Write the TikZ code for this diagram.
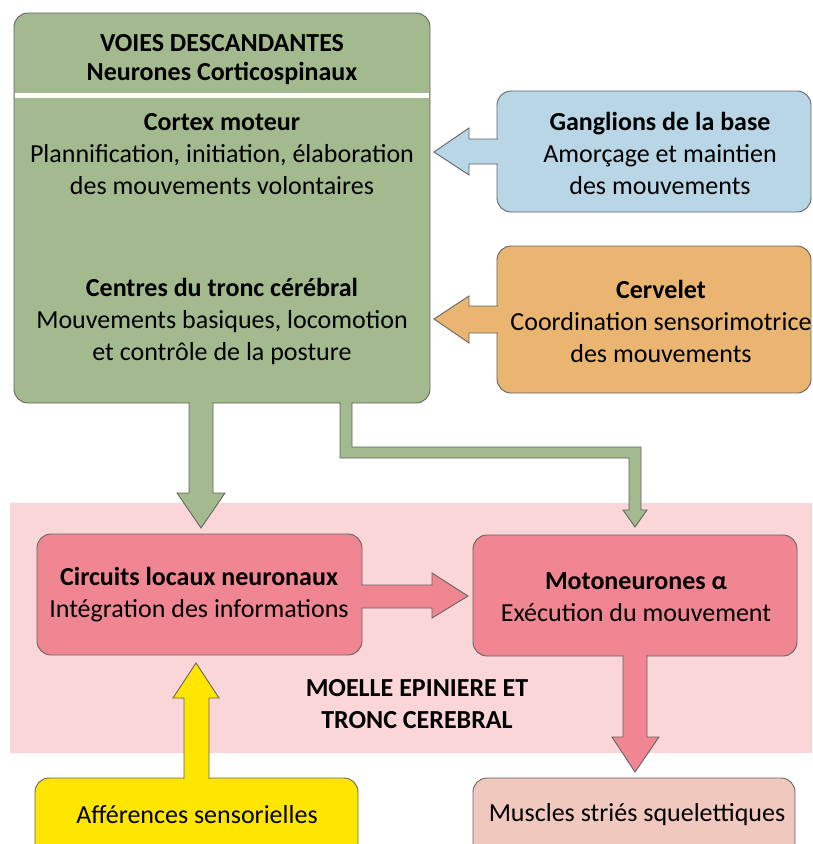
\documentclass[tikz,border=0pt]{standalone}
\usepackage{fontspec}
\setmainfont{Carlito}
\definecolor{cgreen}{RGB}{163,186,143}
\definecolor{cblue}{RGB}{184,214,229}
\definecolor{corange}{RGB}{233,181,112}
\definecolor{cband}{RGB}{251,214,217}
\definecolor{cpink}{RGB}{240,134,145}
\definecolor{cyellow}{RGB}{255,230,0}
\definecolor{cmuscle}{RGB}{241,200,190}
\definecolor{edge}{RGB}{100,100,100}
\tikzset{
  box/.style={draw=edge, line width=0.9pt, rounded corners=14pt, inner sep=0pt},
  txt/.style={align=center, inner sep=0pt, font=\fontsize{26}{32}\selectfont},
  arrline/.style={draw=edge, line width=0.9pt, line join=miter}
}
\begin{document}
\begin{tikzpicture}[x=1pt,y=-1pt]
\useasboundingbox (0,0) rectangle (812,844);
\clip (0,0) rectangle (812,844);
% pink band
\fill[cband] (10,503) rectangle (814,753);
% boxes
\node[box, fill=cgreen, minimum width=416pt, minimum height=390pt] (voies) at (222,208) {};
\draw[white, line width=5pt] (15,95) -- (429,95);
\node[box, fill=cblue, minimum width=314pt, minimum height=121pt] (gang) at (654,151.5) {};
\node[box, fill=corange, minimum width=314pt, minimum height=147pt] (cerv) at (654,319.5) {};
\node[box, fill=cpink, minimum width=325pt, minimum height=121pt] (circ) at (199.5,594.5) {};
\node[box, fill=cpink, minimum width=324pt, minimum height=121pt] (moto) at (635,595.5) {};
\node[box, fill=cyellow, minimum width=323pt, minimum height=82pt] (aff) at (196.5,819) {};
\node[box, fill=cmuscle, minimum width=322pt, minimum height=82pt] (musc) at (634,819) {};
% block arrows
\def\arrGang{(498,139) -- (469,139) -- (469,128) -- (434,152) -- (469,175) -- (469,164) -- (498,164)}
\fill[cblue] \arrGang -- cycle; \draw[arrline] \arrGang;
\def\arrCerv{(498,306) -- (469,306) -- (469,296) -- (434,319) -- (469,343) -- (469,333) -- (498,333)}
\fill[corange] \arrCerv -- cycle; \draw[arrline] \arrCerv;
\def\arrDown{(189,402) -- (189,493) -- (177,493) -- (201,528) -- (225,493) -- (213,493) -- (213,402)}
\fill[cgreen] \arrDown -- cycle; \draw[arrline] \arrDown;
\def\arrElbow{(340,402) -- (340,458) -- (629,458) -- (629,510) -- (623,510) -- (635,527) -- (647,510) -- (641,510) -- (641,447) -- (352,447) -- (352,402)}
\fill[cgreen] \arrElbow -- cycle; \draw[arrline] \arrElbow;
\def\arrRight{(361,585) -- (432,585) -- (432,573) -- (468,596) -- (432,618) -- (432,608) -- (361,608)}
\fill[cpink] \arrRight -- cycle; \draw[arrline] \arrRight;
\def\arrUp{(184,779) -- (184,698) -- (173,698) -- (196,663) -- (219,698) -- (209,698) -- (209,779)}
\fill[cyellow] \arrUp -- cycle; \draw[arrline] \arrUp;
\def\arrMus{(623,655) -- (623,737) -- (612,737) -- (635,772) -- (659,737) -- (647,737) -- (647,655)}
\fill[cpink] \arrMus -- cycle; \draw[arrline] \arrMus;
% texts
\node[txt, font=\fontsize{26}{29}\selectfont] (t1) at (222,59.5) {\textbf{VOIES DESCANDANTES}\\\textbf{Neurones Corticospinaux}};
\node[txt] (t2) at (222,154) {\textbf{Cortex moteur}\\Plannification, initiation, élaboration\\des mouvements volontaires};
\node[txt] (t3) at (222,321.5) {\textbf{Centres du tronc cérébral}\\Mouvements basiques, locomotion\\et contrôle de la posture};
\node[txt] (t4) at (660,153.5) {\textbf{Ganglions de la base}\\Amorçage et maintien\\des mouvements};
\node[txt] (t5) at (661,321.5) {\textbf{Cervelet}\\Coordination sensorimotrice\\des mouvements};
\node[txt] (t6) at (199,595) {\textbf{Circuits locaux neuronaux}\\Intégration des informations};
\node[txt] (t7) at (636,597) {\textbf{Motoneurones α}\\Exécution du mouvement};
\node[txt] (t8) at (417,704) {\textbf{MOELLE EPINIERE ET}\\\textbf{TRONC CEREBRAL}};
\node[txt] (t9) at (197,815) {Afférences sensorielles};
\node[txt] (t10) at (637,815) {Muscles striés squelettiques};
\end{tikzpicture}
\end{document}
